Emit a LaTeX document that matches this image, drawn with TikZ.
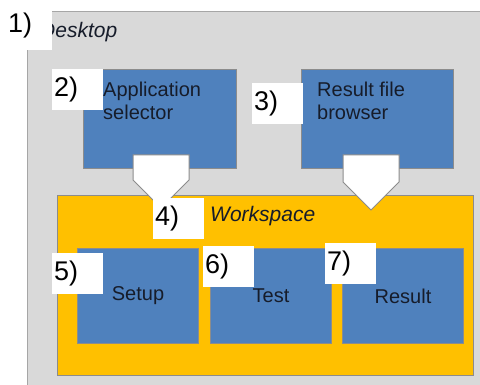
\documentclass[tikz,border=0pt]{standalone}
\usepackage{fontspec}
\setmainfont{Liberation Sans}
\usepackage{tikz}
\usetikzlibrary{calc,positioning}
\definecolor{desktopgrau}{HTML}{D9D9D9}
\definecolor{rahmengrau}{HTML}{A6A6A6}
\definecolor{randgrau}{HTML}{8C8C8C}
\definecolor{kastenblau}{HTML}{4F81BD}
\definecolor{wsgelb}{HTML}{FFC000}
\definecolor{schrift}{HTML}{161C2A}

\begin{document}
\begin{tikzpicture}[x=1pt,y=-1pt,
  kasten/.style={draw=randgrau,line width=1pt,fill=kastenblau,anchor=north west,inner sep=0pt,
    minimum width=121pt,minimum height=95pt,text=schrift,font=\fontsize{20}{23}\selectfont},
  beschriftung/.style={anchor=north west,inner sep=0pt,align=left,text=schrift,font=\fontsize{20}{23}\selectfont},
  nummer/.style={fill=white,anchor=north west,inner xsep=2pt,inner ysep=0pt,text width=47pt,
    minimum height=41pt,align=left,font=\fontsize{27}{27}\selectfont},
  pfeil/.style={draw=randgrau,line width=1pt,fill=white}]
\useasboundingbox (0,0) rectangle (480,385);
%Desktop als Hintergrund, rechts und unten abgeschnitten
\fill[desktopgrau] (27,12) rectangle (480,385);
\draw[rahmengrau,line width=1pt] (27,385) -- (27,12) -- (480,12);
\node[anchor=base west,inner sep=0pt,text=schrift,font=\fontsize{21}{21}\selectfont\itshape] (desktop) at (40,38) {Desktop};
%obere Kaesten
\node[kasten,minimum width=153pt,minimum height=99pt] (auswahl) at (83,69) {};
\node[kasten,minimum width=152pt,minimum height=99pt] (browser) at (301,69) {};
\node[beschriftung] (auswahltext) at ($(auswahl.north west)+(20,13)$) {Application\\selector};
\node[beschriftung] (browsertext) at ($(browser.north west)+(16,13)$) {Result file\\browser};
%Workspace mit den drei Schritten
\node[kasten,fill=wsgelb,minimum width=416pt,minimum height=180pt] (workspace) at (57,195) {};
\node[anchor=base west,inner sep=0pt,text=schrift,font=\fontsize{21}{21}\selectfont\itshape] (wstext) at (210,222) {Workspace};
\foreach \x/\name/\beschr in {77/setup/Setup,210/test/Test,342/result/Result}{
  \node[kasten] (\name) at (\x,248) {\beschr};
}
%Blockpfeile: Mitte, Oberkante, Laenge des Schafts
\coordinate (p1) at (161,155);
\coordinate (p2) at (371,155);
\draw[pfeil] (p1) ++(-28,0) -- ++(56,0) -- ++(0,25) -- ++(-28,28) -- ++(-28,-28) -- cycle;
\draw[pfeil] (p2) ++(-28,0) -- ++(56,0) -- ++(0,27) -- ++(-28,28) -- ++(-28,-28) -- cycle;
%Nummern
\node[nummer,inner xsep=8pt,text width=36pt,minimum height=50pt] (n1) at (0,0) {1)};
\foreach \nx/\ny/\nr in {52/69/2,252/83/3,153/198/4,52/253/5,203/246/6,325/243/7}{
  \node[nummer] (n\nr) at (\nx,\ny) {\nr)};
}
\end{tikzpicture}
\end{document}
